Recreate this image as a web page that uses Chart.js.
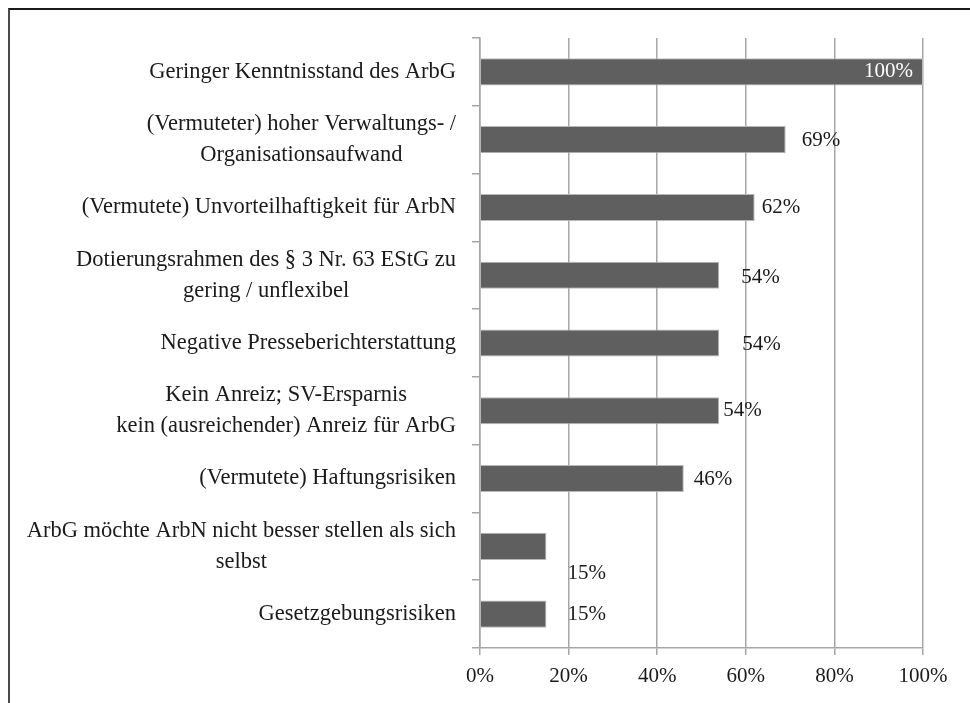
<!DOCTYPE html>
<html>
<head>
<meta charset="utf-8">
<script src="https://cdn.jsdelivr.net/npm/chart.js@4"></script>
<style>
  html, body { margin: 0; padding: 0; background: #fff; overflow: hidden; }
  #wrap { position: relative; width: 970px; height: 703px; }
  #frame {
    position: absolute; left: 8px; top: 8px; width: 1000px; height: 800px;
    border-top: 2px solid #1a1a1a; border-left: 2px solid #4a4a4a;
    box-sizing: border-box; pointer-events: none;
  }
  canvas { position: absolute; left: 0; top: 0; }
</style>
</head>
<body>
<div id="wrap">
  <div id="frame"></div>
  <canvas id="chart" width="970" height="703"></canvas>
</div>
<script>
// categories (line breaks as in the original)
const categories = [
    ["Geringer Kenntnisstand des ArbG"],
    ["(Vermuteter) hoher Verwaltungs- /", "Organisationsaufwand"],
    ["(Vermutete) Unvorteilhaftigkeit für ArbN"],
    ["Dotierungsrahmen des § 3 Nr. 63 EStG zu", "gering / unflexibel"],
    ["Negative Presseberichterstattung"],
    ["Kein Anreiz; SV-Ersparnis", "kein (ausreichender) Anreiz für ArbG"],
    ["(Vermutete) Haftungsrisiken"],
    ["ArbG möchte ArbN nicht besser stellen als sich", "selbst"],
    ["Gesetzgebungsrisiken"]
];

const shares = [100, 69, 62, 54, 54, 54, 46, 15, 15];

const xTicks = [0, 20, 40, 60, 80, 100];

// hand-placed label nudges seen in the original (px)
const labelDx = [-10, 16, 7, 22, 23, 4, 10, 21, 21];
const labelDy = [0, 1, 0, 2, 1, 0, 1, 27, 0];

const FONT = "'Liberation Serif', 'Times New Roman', serif";
const TEXT = "#1a1a1a";
const GRID = "#a6a6a6";

// y labels: block right aligned, lines centred inside the block
const yLabelPlugin = {
    id: "yLabels",
    afterDraw(chart) {
        const ctx = chart.ctx;
        const scale = chart.scales.y;
        const lineH = 31;
        ctx.save();
        ctx.font = "22.5px " + FONT;
        ctx.fillStyle = TEXT;
        ctx.textAlign = "center";
        ctx.textBaseline = "middle";
        categories.forEach((lines, i) => {
            const y = scale.getPixelForTick(i);
            const w = Math.max(...lines.map(l => ctx.measureText(l).width));
            const cx = chart.chartArea.left - 24 - w / 2;
            const y0 = y - (lines.length - 1) * lineH / 2;
            lines.forEach((l, k) => ctx.fillText(l, cx, y0 + k * lineH));
        });
        ctx.restore();
    }
};

const valueLabelPlugin = {
    id: "valueLabels",
    afterDatasetsDraw(chart) {
        const ctx = chart.ctx;
        const meta = chart.getDatasetMeta(0);
        ctx.save();
        ctx.font = "21px " + FONT;
        ctx.textBaseline = "middle";
        meta.data.forEach((bar, i) => {
            const txt = shares[i] + "%";
            if (labelDx[i] < 0) {
                ctx.fillStyle = "#ffffff";
                ctx.textAlign = "right";
            } else {
                ctx.fillStyle = TEXT;
                ctx.textAlign = "left";
            }
            ctx.fillText(txt, bar.x + labelDx[i], bar.y + labelDy[i]);
        });
        ctx.restore();
    }
};

new Chart(document.getElementById("chart"), {
    type: "bar",
    data: {
        labels: categories,
        datasets: [{
            data: shares,
            backgroundColor: "#5f5f5f",
            borderColor: "#b8b8b8",
            borderWidth: 1,
            barPercentage: 0.4,
            categoryPercentage: 1
        }]
    },
    options: {
        indexAxis: "y",
        responsive: false,
        animation: false,
        layout: { padding: { top: 38, right: 47, left: 0, bottom: 0 } },
        plugins: {
            legend: { display: false },
            tooltip: { enabled: false }
        },
        scales: {
            x: {
                min: 0,
                max: 100,
                afterBuildTicks(scale) {
                    scale.ticks = xTicks.map(v => ({ value: v }));
                },
                afterFit(scale) { scale.height = 55; },
                ticks: {
                    callback: v => v + "%",
                    color: TEXT,
                    font: { family: FONT, size: 21 },
                    padding: 9
                },
                grid: { color: GRID, lineWidth: 1.5, tickLength: 7 },
                border: { color: GRID, width: 1.5 }
            },
            y: {
                afterFit(scale) { scale.width = 480; },
                ticks: { color: "transparent", font: { family: FONT, size: 20 } },
                grid: { drawOnChartArea: false, color: GRID, lineWidth: 1.5, tickLength: 8 },
                border: { color: GRID, width: 1.5 }
            }
        }
    },
    plugins: [yLabelPlugin, valueLabelPlugin]
});
</script>
</body>
</html>
